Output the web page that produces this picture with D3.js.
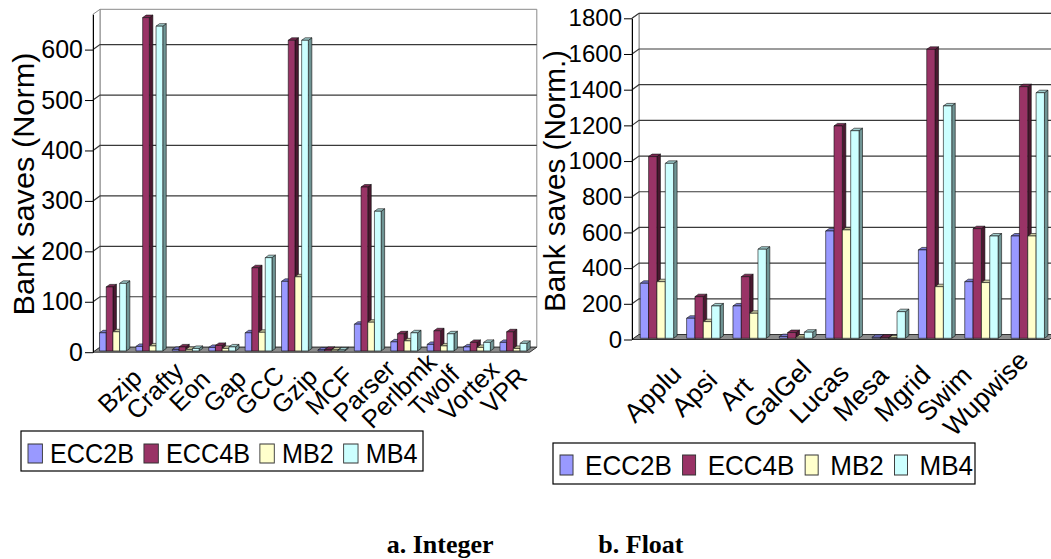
<!DOCTYPE html>
<html>
<head>
<meta charset="utf-8">
<script src="https://cdn.jsdelivr.net/npm/d3@7/dist/d3.min.js"></script>
<style>
  html, body { margin: 0; padding: 0; background: #fff; }
  svg { display: block; }
  text { font-family: "Liberation Sans", Arial, sans-serif; fill: #000; }
</style>
</head>
<body>
<svg id="fig" width="1051" height="559"></svg>
<script>
// ---- data ----
const seriesNames = ["ECC2B", "ECC4B", "MB2", "MB4"];

const intCategories = ["Bzip", "Crafty", "Eon", "Gap", "GCC", "Gzip", "MCF", "Parser", "Perlbmk", "Twolf", "Vortex", "VPR"];
const intECC2B = [36, 9, 3, 7, 36, 138, 2, 53, 18, 13, 8, 17];
const intECC4B = [127, 661, 8, 11, 165, 616, 3, 325, 34, 40, 17, 38];
const intMB2   = [38, 10, 3, 5, 37, 147, 2, 57, 20, 10, 7, 5];
const intMB4   = [134, 644, 5, 8, 185, 616, 2, 277, 36, 34, 17, 15];
const intTicks = [0, 100, 200, 300, 400, 500, 600];

const fltCategories = ["Applu", "Apsi", "Art", "GalGel", "Lucas", "Mesa", "Mgrid", "Swim", "Wupwise"];
const fltECC2B = [308, 112, 181, 9, 601, 5, 495, 317, 573];
const fltECC4B = [1018, 233, 345, 32, 1190, 5, 1619, 614, 1410];
const fltMB2   = [317, 93, 140, 6, 607, 2, 289, 312, 573];
const fltMB4   = [980, 181, 499, 34, 1163, 149, 1302, 573, 1376];
const fltTicks = [0, 200, 400, 600, 800, 1000, 1200, 1400, 1600, 1800];

// face colours for each series: front, top, side
const faceColors = {
  ECC2B: { front: "#9999ff", top: "#7676cc", side: "#55558f" },
  ECC4B: { front: "#993366", top: "#7a2952", side: "#4a1830" },
  MB2:   { front: "#ffffcc", top: "#c9c9a0", side: "#95957a" },
  MB4:   { front: "#ccffff", top: "#9fcccc", side: "#6f9494" }
};

const svg = d3.select("#fig");
svg.append("rect").attr("width", 1051).attr("height", 559).attr("fill", "#fff");

// oblique depth of the plot box and of each column
const boxDx = 7, boxDy = -5;
const barShiftX = 1.75, barShiftY = -1.25;
const barDx = 3.5, barDy = -2.5;

function column3d(opt) {
  const series = [opt.s1, opt.s2, opt.s3, opt.s4];
  const g = svg.append("g");

  const yBack = d3.scaleLinear().domain([0, opt.yMax]).range([opt.yBottom, opt.yTop]);
  const yFront = d3.scaleLinear().domain([0, opt.yMax]).range([opt.yBottom - boxDy, opt.yTop - boxDy]);
  const x0 = d3.scaleBand().domain(opt.cats).range([opt.xLeft, opt.xRight]);
  const x1 = d3.scaleBand().domain(seriesNames).range([opt.groupPad, x0.bandwidth() - opt.groupPad]);

  const xL = opt.xLeft, xR = opt.xRight;
  const top = opt.yMax;

  // back wall
  g.append("path")
    .attr("d", `M${xL + boxDx},${yBack(top)}H${xR + boxDx}V${yBack(0)}H${xL + boxDx}Z`)
    .attr("fill", "#fff").attr("stroke", "#8a8a8a").attr("stroke-width", 1);
  // side wall
  g.append("path")
    .attr("d", `M${xL},${yFront(top)}L${xL + boxDx},${yBack(top)}V${yBack(0)}L${xL},${yFront(0)}Z`)
    .attr("fill", "#fff").attr("stroke", "#8a8a8a").attr("stroke-width", 1);

  // gridlines on the back wall, joined to the axis across the side wall
  g.append("g").selectAll("path")
    .data(opt.ticks.filter(t => t > 0))
    .join("path")
    .attr("d", t => `M${xL},${yFront(t)}L${xL + boxDx},${yBack(t)}H${xR + boxDx}`)
    .attr("fill", "none").attr("stroke", "#3a3a3a").attr("stroke-width", 1.2);

  // floor
  g.append("path")
    .attr("d", `M${xL},${yFront(0)}H${xR}L${xR + boxDx},${yBack(0)}H${xL + boxDx}Z`)
    .attr("fill", "#8c8c8c").attr("stroke", "#333").attr("stroke-width", 1);

  // value axis on the front edge
  const axis = d3.axisLeft(yFront).tickValues(opt.ticks).tickFormat(d3.format("d"))
    .tickSize(8).tickSizeOuter(0).tickPadding(2);
  const ax = g.append("g").attr("transform", `translate(${xL},0)`).call(axis);
  ax.select(".domain").attr("stroke", "#000").attr("stroke-width", 1);
  ax.selectAll(".tick line").attr("stroke", "#000").attr("stroke-width", 1);
  ax.selectAll(".tick text")
    .style("font-family", "'Liberation Sans', Arial, sans-serif")
    .style("font-size", opt.tickFont + "px").attr("fill", "#000");

  // value axis title
  g.append("text")
    .attr("transform", `translate(${opt.titleX},${opt.titleY}) rotate(-90)`)
    .attr("text-anchor", "middle")
    .style("font-size", opt.titleFont + "px")
    .attr("textLength", opt.titleLength)
    .attr("lengthAdjust", "spacingAndGlyphs")
    .text(opt.title);

  // columns, drawn left to right so each front face covers its neighbour's side
  const bars = [];
  opt.cats.forEach((c, i) => {
    seriesNames.forEach((s, j) => bars.push({ cat: c, s: s, v: series[j][i] }));
  });
  const w = x1.bandwidth();
  const bg = g.append("g").selectAll("g").data(bars).join("g");
  const X = d => x0(d.cat) + x1(d.s) + barShiftX;
  const Y0 = () => yFront(0) + barShiftY;
  const YT = d => yFront(d.v) + barShiftY;
  bg.append("path") // side
    .attr("d", d => `M${X(d) + w},${YT(d)}L${X(d) + w + barDx},${YT(d) + barDy}V${Y0() + barDy}L${X(d) + w},${Y0()}Z`)
    .attr("fill", d => faceColors[d.s].side).attr("stroke", "#111").attr("stroke-width", 0.6);
  bg.append("path") // top
    .attr("d", d => `M${X(d)},${YT(d)}H${X(d) + w}L${X(d) + w + barDx},${YT(d) + barDy}H${X(d) + barDx}Z`)
    .attr("fill", d => faceColors[d.s].top).attr("stroke", "#111").attr("stroke-width", 0.6);
  bg.append("path") // front
    .attr("d", d => `M${X(d)},${YT(d)}H${X(d) + w}V${Y0()}H${X(d)}Z`)
    .attr("fill", d => faceColors[d.s].front).attr("stroke", "#111").attr("stroke-width", 0.6);

  // category labels, rotated about their centres
  const xLab = d3.scalePoint().domain(opt.cats).range(opt.labelRange);
  g.append("g").selectAll("text")
    .data(opt.cats)
    .join("text")
    .attr("transform", c => `translate(${xLab(c)},${opt.labelY}) rotate(-45)`)
    .attr("text-anchor", "middle")
    .style("font-size", opt.labelFont + "px")
    .text(c => c);
}

function legendBox(opt) {
  svg.append("rect")
    .attr("x", opt.boxX).attr("y", opt.boxY).attr("width", opt.boxW).attr("height", opt.boxH)
    .attr("fill", "#fff").attr("stroke", "#000").attr("stroke-width", 1.2);
  const g = svg.append("g").attr("transform", `translate(${opt.x},${opt.baseline}) scale(${opt.sx},1)`);
  let cx = 0;
  seriesNames.forEach(s => {
    g.append("rect")
      .attr("x", cx).attr("y", -opt.swH).attr("width", opt.swW).attr("height", opt.swH)
      .attr("fill", faceColors[s].front).attr("stroke", "#333").attr("stroke-width", 1);
    const t = g.append("text").attr("x", cx + opt.textGap).attr("y", 0)
      .style("font-size", opt.font + "px").text(s);
    cx += opt.textGap + t.node().getComputedTextLength() + opt.itemGap;
  });
}

// a. Integer
column3d({
  cats: intCategories, s1: intECC2B, s2: intECC4B, s3: intMB2, s4: intMB4,
  yMax: 670, ticks: intTicks,
  xLeft: 93, xRight: 529.8, yBottom: 347.2, yTop: 9.3, groupPad: 4.8,
  tickFont: 25, title: "Bank saves (Norm)", titleFont: 29, titleLength: 263, titleX: 34, titleY: 184,
  labelFont: 25.5, labelRange: [126, 510], labelY: 397
});
legendBox({ boxX: 21, boxY: 431, boxW: 402, boxH: 40, x: 28, baseline: 463, sx: 0.9,
  swW: 16, swH: 19, textGap: 24.5, itemGap: 11, font: 28 });

// b. Float
column3d({
  cats: fltCategories, s1: fltECC2B, s2: fltECC4B, s3: fltMB2, s4: fltMB4,
  yMax: 1800, ticks: fltTicks,
  xLeft: 632, xRight: 1049.2, yBottom: 334.5, yTop: 13.3, groupPad: 6.5,
  tickFont: 24, title: "Bank saves (Norm.)", titleFont: 29, titleLength: 262, titleX: 565, titleY: 181,
  labelFont: 26.5, labelRange: [659, 992], labelY: 400
});
legendBox({ boxX: 553, boxY: 443, boxW: 422, boxH: 41, x: 560, baseline: 475, sx: 0.93,
  swW: 14, swH: 20, textGap: 27, itemGap: 11.5, font: 28 });

// panel captions
svg.append("text").attr("x", 386.7).attr("y", 553)
  .style("font-family", "'Liberation Serif', 'Times New Roman', serif")
  .attr("font-weight", "bold").style("font-size", "26px").text("a. Integer");
svg.append("text").attr("x", 598.3).attr("y", 553)
  .style("font-family", "'Liberation Serif', 'Times New Roman', serif")
  .attr("font-weight", "bold").style("font-size", "26px").text("b. Float");
</script>
</body>
</html>
